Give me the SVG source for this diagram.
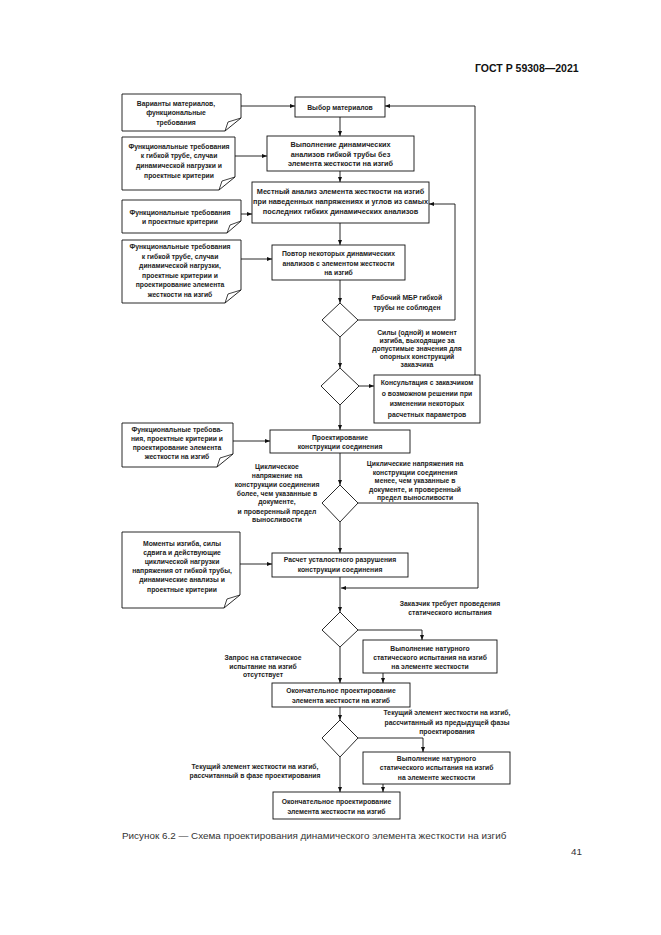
<svg xmlns="http://www.w3.org/2000/svg" width="661" height="935" viewBox="0 0 661 935">
<defs>
<marker id="ah" markerWidth="5" markerHeight="4" refX="5" refY="2" orient="auto" markerUnits="userSpaceOnUse">
<path d="M0,0 L5,2 L0,4 Z" fill="#111"/>
</marker>
<style>
.box{fill:#fff;stroke:#111;stroke-width:0.9}
.doc{fill:#fff;stroke:#111;stroke-width:0.9}
.fold{fill:none;stroke:#111;stroke-width:0.8}
.c{fill:none;stroke:#111;stroke-width:0.9;marker-end:url(#ah)}
text{font-family:"Liberation Sans",Arial,sans-serif;font-size:6.8px;font-weight:bold;fill:#222;text-anchor:middle}
.wide{font-size:7.3px}
.hdr{font-size:10.5px;fill:#111;text-anchor:start}
.cap{font-size:9.9px;font-weight:normal;fill:#333;text-anchor:start}
</style>
</defs>
<rect width="661" height="935" fill="#fff"/>
<text class="hdr" x="475" y="72">ГОСТ Р 59308—2021</text>

<g id="connectors">
<path class="c" d="M241,106 H295"/>
<path class="c" d="M475,375 V106 H385"/>
<path class="c" d="M340,117 V136"/>
<path class="c" d="M235,156 H267"/>
<path class="c" d="M340,171 V182"/>
<path class="c" d="M241,214 H252"/>
<path class="c" d="M340,223 V245"/>
<path class="c" d="M241,259 H272"/>
<path class="c" d="M340,280 V303"/>
<path class="c" d="M358,320 H455 V204 H429"/>
<path class="c" d="M340,337 V368"/>
<path class="c" d="M359,386 H374"/>
<path class="c" d="M340,405 V430"/>
<path class="c" d="M233,441 H270"/>
<path class="c" d="M340,453 V485"/>
<path class="c" d="M358,503 H478 V588 H341"/>
<path class="c" d="M340,522 V553"/>
<path class="c" d="M240,564 H272"/>
<path class="c" d="M340,577 V612"/>
<path class="c" d="M358,630 H422 V640"/>
<path class="c" d="M340,647 V683"/>
<path class="c" d="M383,673 V683"/>
<path class="c" d="M340,707 V720"/>
<path class="c" d="M358,738 H423 V752"/>
<path class="c" d="M340,757 V792"/>
<path class="c" d="M383,784 V792"/>
</g>

<g id="doc1">
<path class="doc" d="M122,94 H241 V118 L225,131 H122 Z"/>
<path class="fold" d="M225,131 L228,122 L241,118"/>
<text x="176" y="106">Варианты материалов,</text>
<text x="176" y="115">функциональные</text>
<text x="176" y="125">требования</text>
</g>

<g id="n_choice">
<rect class="box" x="295" y="97" width="90" height="20"/>
<text x="340" y="109.5">Выбор материалов</text>
</g>

<g id="doc2">
<path class="doc" d="M122,137 H235 V177 L219,190 H122 Z"/>
<path class="fold" d="M219,190 L222,181 L235,177"/>
<text x="179" y="149">Функциональные требования</text>
<text x="179" y="158">к гибкой трубе, случаи</text>
<text x="179" y="168">динамической нагрузки и</text>
<text x="179" y="178">проектные критерии</text>
</g>

<g id="n_dyn">
<rect class="box" x="267" y="136" width="147" height="35"/>
<text class="wide" x="340.5" y="147">Выполнение динамических</text>
<text class="wide" x="340.5" y="156.5">анализов гибкой трубы без</text>
<text class="wide" x="340.5" y="166">элемента жесткости на изгиб</text>
</g>

<g id="doc3">
<path class="doc" d="M122,200 H241 V221 L227,233 H122 Z"/>
<path class="fold" d="M227,233 L230,225 L241,221"/>
<text x="180" y="215">Функциональные требования</text>
<text x="180" y="224">и проектные критерии</text>
</g>

<g id="n_local">
<rect class="box" x="252" y="182" width="177" height="41"/>
<text class="wide" x="340.5" y="194">Местный анализ элемента жесткости на изгиб</text>
<text class="wide" x="340.5" y="204">при наведенных напряжениях и углов из самых</text>
<text class="wide" x="340.5" y="214">последних гибких динамических анализов</text>
</g>

<g id="doc4">
<path class="doc" d="M122,240 H241 V290 L225,303 H122 Z"/>
<path class="fold" d="M225,303 L228,294 L241,290"/>
<text x="180" y="249">Функциональные требования</text>
<text x="180" y="258.5">к гибкой трубе, случаи</text>
<text x="180" y="268">динамической нагрузки,</text>
<text x="180" y="277.5">проектные критерии и</text>
<text x="180" y="287">проектирование элемента</text>
<text x="180" y="296.5">жесткости на изгиб</text>
</g>

<g id="n_repeat">
<rect class="box" x="272" y="245" width="133" height="35"/>
<text x="338.5" y="256">Повтор некоторых динамических</text>
<text x="338.5" y="265.5">анализов с элементом жесткости</text>
<text x="338.5" y="275">на изгиб</text>
</g>

<g id="d1">
<path class="box" d="M340,303 L358,320 L340,337 L322,320 Z"/>
</g>
<g id="lbl_mbr">
<text x="407" y="300">Рабочий МБР гибкой</text>
<text x="407" y="310">трубы не соблюден</text>
</g>

<g id="lbl_forces">
<text x="417" y="335">Силы (одной) и момент</text>
<text x="417" y="343">изгиба, выходящие за</text>
<text x="417" y="351">допустимые значения для</text>
<text x="417" y="359">опорных конструкций</text>
<text x="417" y="367">заказчика</text>
</g>

<g id="d2">
<path class="box" d="M340,368 L359,386 L340,405 L321,386 Z"/>
</g>

<g id="n_consult">
<rect class="box" x="374" y="375" width="106" height="48"/>
<text x="427" y="385">Консультация с заказчиком</text>
<text x="427" y="395.5">о возможном решении при</text>
<text x="427" y="406">изменении некоторых</text>
<text x="427" y="416.5">расчетных параметров</text>
</g>

<g id="doc5">
<path class="doc" d="M122,423 H233 V454 L217,467 H122 Z"/>
<path class="fold" d="M217,467 L220,458 L233,454"/>
<text x="177" y="432">Функциональные требова-</text>
<text x="177" y="441">ния, проектные критерии и</text>
<text x="177" y="450">проектирование элемента</text>
<text x="177" y="459">жесткости на изгиб</text>
</g>

<g id="n_joint">
<rect class="box" x="270" y="430" width="140" height="23"/>
<text x="340" y="439.5">Проектирование</text>
<text x="340" y="449">конструкции соединения</text>
</g>

<g id="lbl_more">
<text x="277" y="469">Циклическое</text>
<text x="277" y="477.5">напряжение на</text>
<text x="277" y="486.5">конструкции соединения</text>
<text x="277" y="495.5">более, чем указанные в</text>
<text x="277" y="504">документе,</text>
<text x="277" y="513.5">и проверенный предел</text>
<text x="277" y="522">выносливости</text>
</g>

<g id="lbl_less">
<text x="415" y="466">Циклические напряжения на</text>
<text x="415" y="474.5">конструкции соединения</text>
<text x="415" y="483">менее, чем указанные в</text>
<text x="415" y="491.5">документе, и проверенный</text>
<text x="415" y="500">предел выносливости</text>
</g>

<g id="d3">
<path class="box" d="M340,485 L358,503 L340,522 L322,503 Z"/>
</g>

<g id="doc6">
<path class="doc" d="M122,532 H240 V595 L224,608 H122 Z"/>
<path class="fold" d="M224,608 L227,599 L240,595"/>
<text x="182" y="546">Моменты изгиба, силы</text>
<text x="182" y="555">сдвига и действующие</text>
<text x="182" y="564">циклической нагрузки</text>
<text x="182" y="573">напряжения от гибкой трубы,</text>
<text x="182" y="582">динамические анализы и</text>
<text x="182" y="592">проектные критерии</text>
</g>

<g id="n_fatigue">
<rect class="box" x="272" y="553" width="136" height="24"/>
<text x="340" y="562">Расчет усталостного разрушения</text>
<text x="340" y="572">конструкции соединения</text>
</g>

<g id="d4">
<path class="box" d="M340,612 L358,630 L340,647 L322,630 Z"/>
</g>
<g id="lbl_cust">
<text x="450" y="606">Заказчик требует проведения</text>
<text x="450" y="615">статического испытания</text>
</g>

<g id="n_test1">
<rect class="box" x="363" y="640" width="134" height="33"/>
<text x="430" y="650.5">Выполнение натурного</text>
<text x="430" y="659.5">статического испытания на изгиб</text>
<text x="430" y="668.5">на элементе жесткости</text>
</g>

<g id="lbl_norequest">
<text x="263" y="660">Запрос на статическое</text>
<text x="263" y="668.5">испытание на изгиб</text>
<text x="263" y="677">отсутствует</text>
</g>

<g id="n_final1">
<rect class="box" x="272" y="683" width="138" height="24"/>
<text x="341" y="692.5">Окончательное проектирование</text>
<text x="341" y="702.5">элемента жесткости на изгиб</text>
</g>

<g id="d5">
<path class="box" d="M340,720 L358,738 L340,757 L322,738 Z"/>
</g>
<g id="lbl_prev">
<text x="447" y="715">Текущий элемент жесткости на изгиб,</text>
<text x="447" y="724.5">рассчитанный из предыдущей фазы</text>
<text x="447" y="734">проектирования</text>
</g>

<g id="n_test2">
<rect class="box" x="363" y="752" width="147" height="32"/>
<text x="436.5" y="760.5">Выполнение натурного</text>
<text x="436.5" y="770">статического испытания на изгиб</text>
<text x="436.5" y="779.5">на элементе жесткости</text>
</g>

<g id="lbl_cur">
<text x="255" y="769">Текущий элемент жесткости на изгиб,</text>
<text x="255" y="777.5">рассчитанный в фазе проектирования</text>
</g>

<g id="n_final2">
<rect class="box" x="273" y="792" width="127" height="27"/>
<text x="336.5" y="804">Окончательное проектирование</text>
<text x="336.5" y="813.5">элемента жесткости на изгиб</text>
</g>

<text class="cap" x="122" y="839">Рисунок 6.2 — Схема проектирования динамического элемента жесткости на изгиб</text>
<text class="cap" x="571" y="855">41</text>
</svg>
